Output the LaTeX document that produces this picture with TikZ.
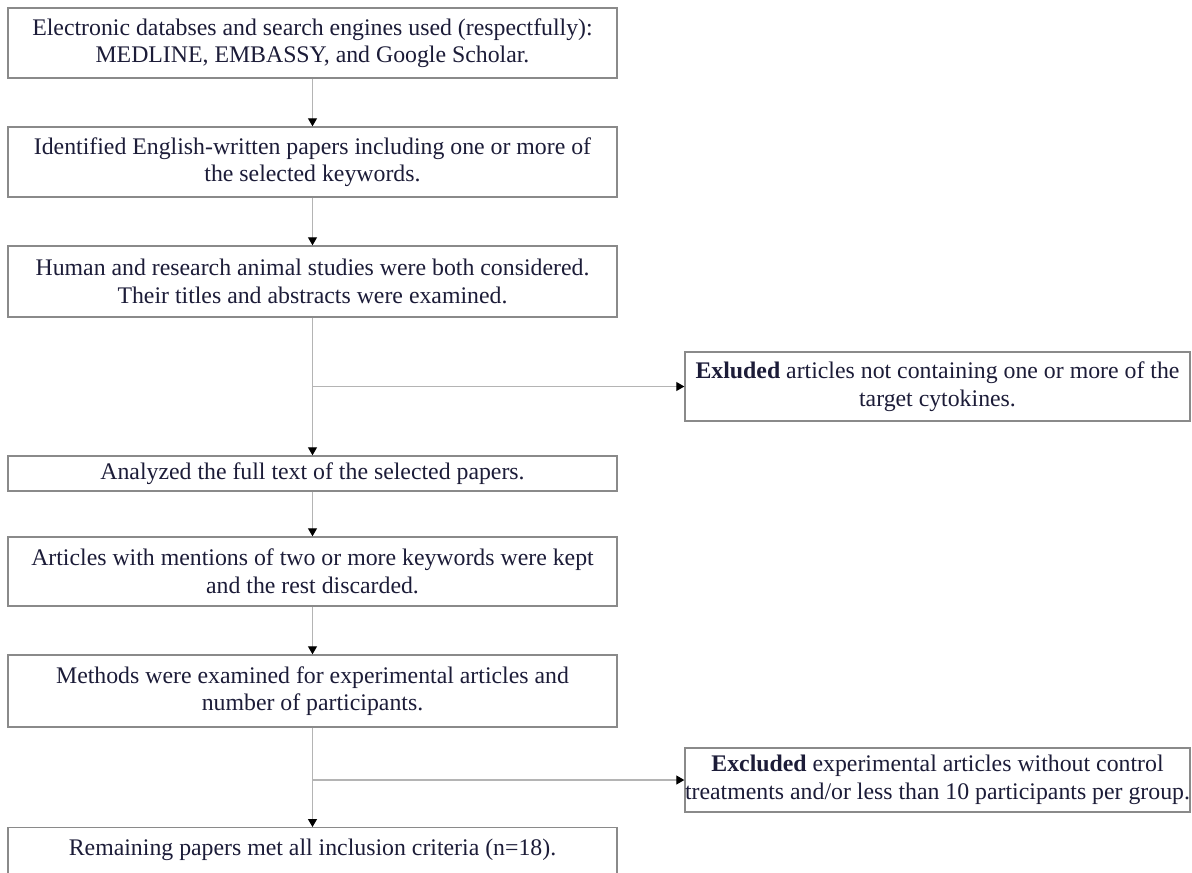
\documentclass[tikz,border=0pt]{standalone}
\usepackage{fontspec}
\setmainfont{Liberation Serif}
\usetikzlibrary{arrows.meta}
\definecolor{txt}{HTML}{1C1C38}
\definecolor{bord}{HTML}{8A8A8A}
\definecolor{conn}{HTML}{B4B4B4}
\begin{document}
\begin{tikzpicture}[x=1pt,y=-1pt,
  lbl/.style={text=txt,font=\fontsize{23.8}{27.5}\selectfont,align=center},
  box/.style={lbl,draw=bord,line width=1.4pt,rectangle,inner sep=0pt},
  mainbox/.style={box,minimum width=609pt},
  sidebox/.style={box,minimum width=505pt},
  conn/.style={draw=conn,line width=1.1pt},
  arr/.style={conn,-{Triangle[width=9pt,length=8pt,color=black]}}]
\clip (0,0) rectangle (1192,873);
\fill[white] (0,0) rectangle (1192,873);

\node[mainbox,minimum height=70pt] (b1) at (312.5,43) {Electronic databses and search engines used (respectfully):\\MEDLINE, EMBASSY, and Google Scholar.};
\node[mainbox,minimum height=70pt] (b2) at (312.5,162) {Identified English-written papers including one or more of\\the selected keywords.};
\node[mainbox,minimum height=71pt] (b3) at (312.5,281.5) {Human and research animal studies were both considered.\\Their titles and abstracts were examined.};
\node[mainbox,minimum height=35pt] (b4) at (312.5,473.5) {Analyzed the full text of the selected papers.};
\node[mainbox,minimum height=69pt] (b5) at (312.5,571.5) {Articles with mentions of two or more keywords were kept\\and the rest discarded.};
\node[mainbox,minimum height=72pt] (b6) at (312.5,691) {Methods were examined for experimental articles and\\number of participants.};
\node[mainbox,minimum height=60pt,anchor=north] (b7) at (312.5,827) {};
\node[lbl] (b7t) at (312.5,850) {Remaining papers met all inclusion criteria (n=18).};

\node[sidebox,minimum height=69pt] (e1) at (937.5,386.5) {\textbf{Exluded} articles not containing one or more of the\\target cytokines.};
\node[sidebox,minimum height=64pt] (e2) at (937.5,780) {\textbf{Excluded} experimental articles without control\\treatments and/or less than 10 participants per group.};

\draw[arr] (b1.south) -- (b2.north);
\draw[arr] (b2.south) -- (b3.north);
\draw[arr] (b3.south) -- (b4.north);
\coordinate (j1) at (b3.south |- e1.west);
\draw[arr] (j1) -- (e1.west);
\draw[arr] (b4.south) -- (b5.north);
\draw[arr] (b5.south) -- (b6.north);
\draw[arr] (b6.south) -- (b7.north);
\coordinate (j2) at (b6.south |- e2.west);
\draw[arr] (j2) -- (e2.west);
\end{tikzpicture}
\end{document}
